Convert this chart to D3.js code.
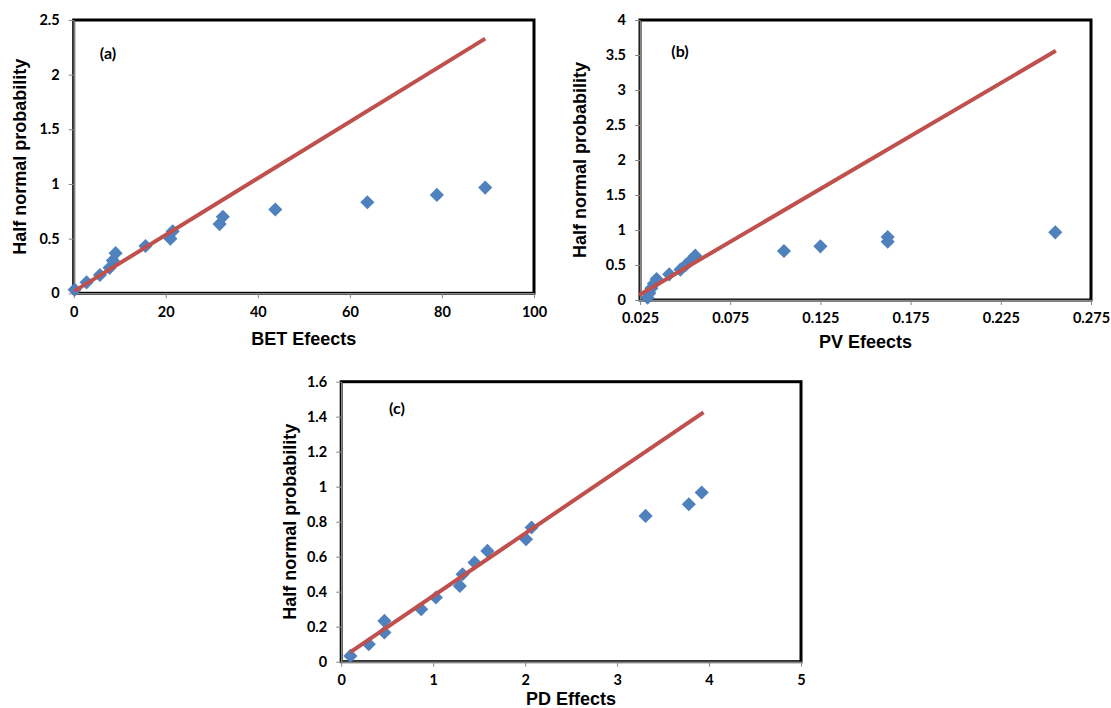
<!DOCTYPE html>
<html>
<head>
<meta charset="utf-8">
<script src="https://cdn.jsdelivr.net/npm/d3@7"></script>
<style>
	body { margin: 0; background: #fff; }
	.tick text { font-family: Lato, "Open Sans", sans-serif; font-weight: bold; font-size: 14.5px; fill: #000; }
	.tick line { stroke: #868686; }
	.domain { stroke: #868686; stroke-width: 1.5; }
	.axis-title { font-family: "Liberation Sans", Arial, sans-serif; font-weight: bold; font-size: 18px; fill: #000; }
	.panel-label { font-family: Lato, sans-serif; font-weight: bold; font-size: 16px; fill: #000; }
</style>
</head>
<body>
<svg id="chart" width="1111" height="708"></svg>
<script>
// half normal probability, shared by the three plots
var halfNormal = [0.033, 0.100, 0.167, 0.233, 0.300, 0.367, 0.433, 0.500, 0.567, 0.633, 0.700, 0.767, 0.833, 0.900, 0.967];

// (a) BET effects
var betEffects = [0.2, 2.8, 5.7, 7.8, 8.5, 9.1, 15.6, 21.0, 21.5, 31.7, 32.4, 43.8, 63.8, 78.9, 89.4];
var betLineX = [0.13, 89.4];
var betLineY = [0.02, 2.33];
var betXTicks = [0, 20, 40, 60, 80, 100];
var betYTicks = [0, 0.5, 1, 1.5, 2, 2.5];

// (b) PV effects
var pvEffects = [0.0292, 0.0302, 0.0313, 0.0327, 0.0342, 0.0412, 0.0474, 0.0504, 0.0532, 0.0556, 0.1048, 0.125, 0.1623, 0.1623, 0.2552];
var pvLineX = [0.0246, 0.2555];
var pvLineY = [0.07, 3.56];
var pvXTicks = [0.025, 0.075, 0.125, 0.175, 0.225, 0.275];
var pvYTicks = [0, 0.5, 1, 1.5, 2, 2.5, 3, 3.5, 4];

// (c) PD effects
var pdEffects = [0.10, 0.30, 0.47, 0.47, 0.87, 1.03, 1.29, 1.32, 1.45, 1.59, 2.01, 2.07, 3.31, 3.78, 3.92];
var pdLineX = [0.1, 3.94];
var pdLineY = [0.055, 1.425];
var pdXTicks = [0, 1, 2, 3, 4, 5];
var pdYTicks = [0, 0.2, 0.4, 0.6, 0.8, 1, 1.2, 1.4, 1.6];

var panels = [
	{
		label: "(a)", xTitle: "BET Efeects", xs: betEffects, lineX: betLineX, lineY: betLineY,
		xTicks: betXTicks, yTicks: betYTicks,
		box: {left: 73.7, right: 534, top: 20, bottom: 293.3},
		labelAt: [108, 59], yTitleX: 26, xTitleY: 345
	},
	{
		label: "(b)", xTitle: "PV Efeects", xs: pvEffects, lineX: pvLineX, lineY: pvLineY,
		xTicks: pvXTicks, yTicks: pvYTicks,
		box: {left: 640, right: 1091, top: 20, bottom: 300},
		labelAt: [680, 57], yTitleX: 586, xTitleY: 348
	},
	{
		label: "(c)", xTitle: "PD Effects", xs: pdEffects, lineX: pdLineX, lineY: pdLineY,
		xTicks: pdXTicks, yTicks: pdYTicks,
		box: {left: 341.2, right: 801, top: 381.7, bottom: 661.7},
		labelAt: [397, 414], yTitleX: 296, xTitleY: 705
	}
];

var svg = d3.select("#chart");
var diamond = d3.symbol().type(d3.symbolSquare).size(100);

panels.forEach(function(p) {
	var b = p.box;
	var x = d3.scaleLinear()
		.domain([p.xTicks[0], p.xTicks[p.xTicks.length - 1]])
		.range([b.left, b.right]);
	var y = d3.scaleLinear()
		.domain([p.yTicks[0], p.yTicks[p.yTicks.length - 1]])
		.range([b.bottom, b.top]);

	var g = svg.append("g");

	// plot area frame
	g.append("rect")
		.attr("x", b.left)
		.attr("y", b.top)
		.attr("width", b.right - b.left)
		.attr("height", b.bottom - b.top)
		.attr("fill", "none")
		.attr("stroke", "#000")
		.attr("stroke-width", 3);

	g.append("g")
		.attr("transform", "translate(0," + b.bottom + ")")
		.call(d3.axisBottom(x).tickValues(p.xTicks).tickFormat(function(d) { return d3.format("")(+d.toFixed(3)); })
			.tickSizeInner(5).tickSizeOuter(0).tickPadding(8));

	g.append("g")
		.attr("transform", "translate(" + b.left + ",0)")
		.call(d3.axisLeft(y).tickValues(p.yTicks).tickFormat(function(d) { return d3.format("")(+d.toFixed(2)); })
			.tickSizeInner(5).tickSizeOuter(0).tickPadding(9));

	// points
	g.append("g").selectAll("path")
		.data(p.xs)
		.enter().append("path")
		.attr("d", diamond)
		.attr("fill", "#4f81bd")
		.attr("transform", function(d, i) {
			return "translate(" + x(d) + "," + y(halfNormal[i]) + ") rotate(45)";
		});

	// fitted line, drawn over the points
	g.append("path")
		.datum(p.lineX.map(function(v, i) { return [v, p.lineY[i]]; }))
		.attr("fill", "none")
		.attr("stroke", "#c0504d")
		.attr("stroke-width", 4)
		.attr("d", d3.line().x(function(d) { return x(d[0]); }).y(function(d) { return y(d[1]); }));

	g.append("text")
		.attr("class", "panel-label")
		.attr("x", p.labelAt[0])
		.attr("y", p.labelAt[1])
		.attr("text-anchor", "middle")
		.text(p.label);

	g.append("text")
		.attr("class", "axis-title")
		.attr("text-anchor", "middle")
		.attr("transform", "translate(" + p.yTitleX + "," + ((b.top + b.bottom) / 2) + ") rotate(-90)")
		.text("Half normal probability");

	g.append("text")
		.attr("class", "axis-title")
		.attr("text-anchor", "middle")
		.attr("x", (b.left + b.right) / 2)
		.attr("y", p.xTitleY)
		.text(p.xTitle);
});
</script>
</body>
</html>
